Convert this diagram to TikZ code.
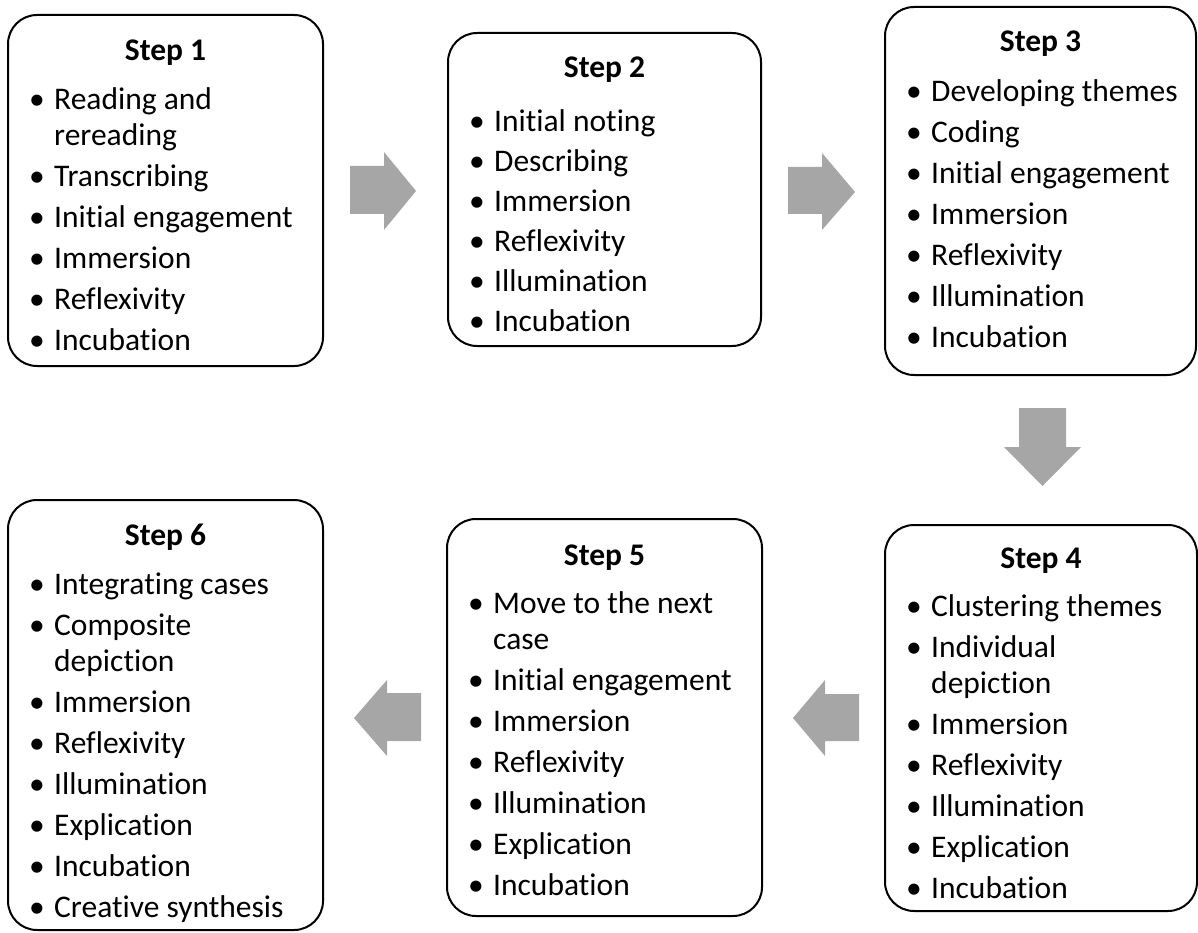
\documentclass[tikz,border=0pt]{standalone}
\usepackage{fontspec}
\setmainfont{Carlito}[Ligatures=NoCommon]
\definecolor{arrowgrey}{HTML}{A6A6A6}
\newcommand{\itm}[1]{\makebox[25pt][l]{\textbullet}#1}
\newcommand{\cnt}[1]{\hspace*{25pt}#1}

\begin{document}
\begin{tikzpicture}[x=1pt,y=-1pt,
    stepbox/.style={draw, line width=2pt, rounded corners=29pt, inner sep=0pt, outer sep=0pt},
    stephead/.style={font=\fontsize{31.5pt}{36pt}\selectfont\bfseries, anchor=base, inner sep=0pt},
    steplist/.style={font=\fontsize{31.5pt}{36pt}\selectfont, align=left, anchor=base west, inner sep=0pt},
    bigarrow/.style={fill=arrowgrey}]
			%%%%% START %%%%%
			
			\useasboundingbox (0,0) rectangle (1198,933);
			
			% top row
			\node[stepbox, minimum width=315pt, minimum height=351pt] (s1) at (165.5,190.5) {};
			\node[stephead] (h1) at ([yshift=-46pt]s1.north) {Step 1};
			\node[steplist] (l1) at ([xshift=21pt,yshift=-335pt]s1.north west) {\itm{Reading and}\\\cnt{rereading}\\[5pt]\itm{Transcribing}\\[5pt]\itm{Initial engagement}\\[5pt]\itm{Immersion}\\[5pt]\itm{Reflexivity}\\[5pt]\itm{Incubation}};
			
			\node[stepbox, minimum width=313pt, minimum height=313pt] (s2) at (604.5,189.5) {};
			\node[stephead] (h2) at ([yshift=-45pt]s2.north) {Step 2};
			\node[steplist] (l2) at ([xshift=21pt,yshift=-298pt]s2.north west) {\itm{Initial noting}\\[4pt]\itm{Describing}\\[4pt]\itm{Immersion}\\[4pt]\itm{Reflexivity}\\[4pt]\itm{Illumination}\\[4pt]\itm{Incubation}};
			
			\node[stepbox, minimum width=311pt, minimum height=368pt] (s3) at (1040.5,191) {};
			\node[stephead] (h3) at ([yshift=-45pt]s3.north) {Step 3};
			\node[steplist] (l3) at ([xshift=21pt,yshift=-340pt]s3.north west) {\itm{Developing themes}\\[5pt]\itm{Coding}\\[5pt]\itm{Initial engagement}\\[5pt]\itm{Immersion}\\[5pt]\itm{Reflexivity}\\[5pt]\itm{Illumination}\\[5pt]\itm{Incubation}};
			
			% bottom row
			\node[stepbox, minimum width=312pt, minimum height=386pt] (s4) at (1041,718) {};
			\node[stephead] (h4) at ([yshift=-43pt]s4.north) {Step 4};
			\node[steplist] (l4) at ([xshift=21pt,yshift=-373pt]s4.north west) {\itm{Clustering themes}\\[5pt]\itm{Individual}\\\cnt{depiction}\\[5pt]\itm{Immersion}\\[5pt]\itm{Reflexivity}\\[5pt]\itm{Illumination}\\[5pt]\itm{Explication}\\[5pt]\itm{Incubation}};
			
			\node[stepbox, minimum width=315pt, minimum height=397pt] (s5) at (604.5,717.5) {};
			\node[stephead] (h5) at ([yshift=-46pt]s5.north) {Step 5};
			\node[steplist] (l5) at ([xshift=21pt,yshift=-376pt]s5.north west) {\itm{Move to the next}\\\cnt{case}\\[5pt]\itm{Initial engagement}\\[5pt]\itm{Immersion}\\[5pt]\itm{Reflexivity}\\[5pt]\itm{Illumination}\\[5pt]\itm{Explication}\\[5pt]\itm{Incubation}};
			
			\node[stepbox, minimum width=315pt, minimum height=430pt] (s6) at (165.5,715) {};
			\node[stephead] (h6) at ([yshift=-45pt]s6.north) {Step 6};
			\node[steplist] (l6) at ([xshift=21pt,yshift=-417pt]s6.north west) {\itm{Integrating cases}\\[5pt]\itm{Composite}\\\cnt{depiction}\\[5pt]\itm{Immersion}\\[5pt]\itm{Reflexivity}\\[5pt]\itm{Illumination}\\[5pt]\itm{Explication}\\[5pt]\itm{Incubation}\\[5pt]\itm{Creative synthesis}};
			
			% block arrows
			\fill[bigarrow] (350,166) -- (384,166) -- (384,152) -- (416,191) -- (384,230) -- (384,214) -- (350,214) -- cycle;
			\fill[bigarrow] (788,167) -- (822,167) -- (822,153) -- (855,192) -- (822,230) -- (822,214) -- (788,214) -- cycle;
			\fill[bigarrow] (1019,408) -- (1066,408) -- (1066,447) -- (1081,447) -- (1042.5,486) -- (1004,447) -- (1019,447) -- cycle;
			\fill[bigarrow] (859,694) -- (825,694) -- (825,680) -- (793,718) -- (825,756) -- (825,741) -- (859,741) -- cycle;
			\fill[bigarrow] (421,693) -- (387,693) -- (387,680) -- (354,718) -- (387,756) -- (387,741) -- (421,741) -- cycle;
			
			%%%%% END %%%%%
\end{tikzpicture}
\end{document}
